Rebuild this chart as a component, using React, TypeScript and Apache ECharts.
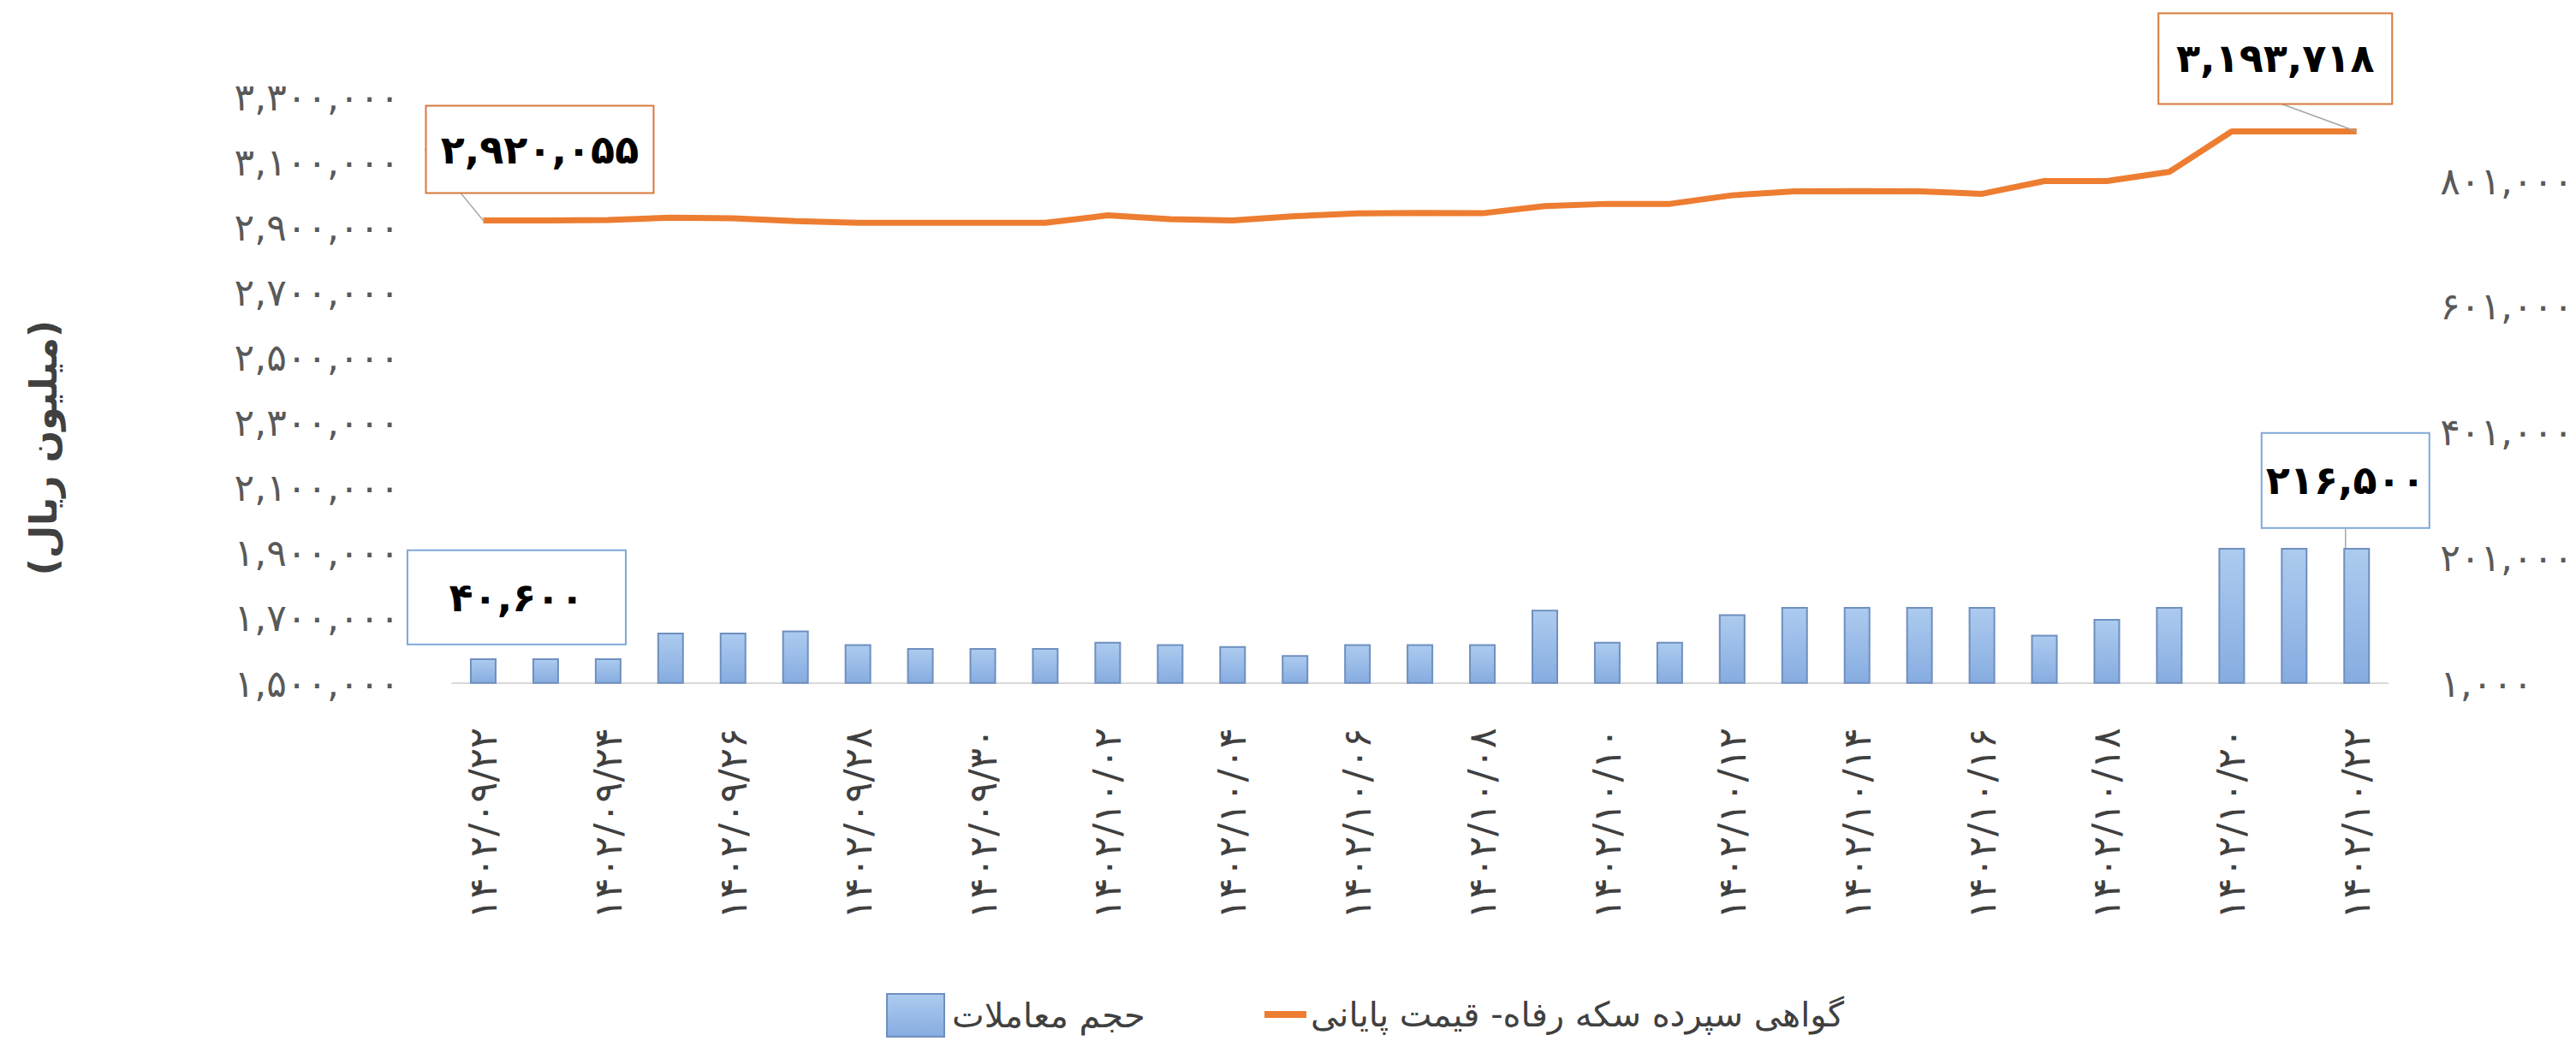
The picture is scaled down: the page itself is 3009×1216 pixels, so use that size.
import React, { useEffect, useRef } from 'react';
import * as echarts from 'echarts';

const FONT = '"DejaVu Sans", sans-serif';

const categories = [
  '1402/09/22', '1402/09/23', '1402/09/24', '1402/09/25', '1402/09/26', '1402/09/27',
  '1402/09/28', '1402/09/29', '1402/09/30', '1402/10/01', '1402/10/02', '1402/10/03',
  '1402/10/04', '1402/10/05', '1402/10/06', '1402/10/07', '1402/10/08', '1402/10/09',
  '1402/10/10', '1402/10/11', '1402/10/12', '1402/10/13', '1402/10/14', '1402/10/15',
  '1402/10/16', '1402/10/17', '1402/10/18', '1402/10/19', '1402/10/20', '1402/10/21',
  '1402/10/22',
];

const volumeValues = [
  40600, 40600, 40600, 81400, 81400, 85000, 63200, 56900, 56900, 56900,
  66900, 63200, 60100, 45500, 63200, 63200, 63200, 117800, 66900, 66900,
  110900, 122300, 122300, 122300, 122300, 78200, 103200, 122300, 216500, 216500,
  216500,
];

const priceValues = [
  2920055, 2920000, 2921800, 2928800, 2927000, 2918300, 2913000, 2913000, 2913000, 2913000,
  2935800, 2924400, 2920000, 2933200, 2942000, 2943500, 2942300, 2964200, 2971200, 2971200,
  2997500, 3009700, 3010600, 3009700, 3001900, 3041300, 3041300, 3069300, 3193718, 3193718,
  3193718,
];

const volumeName = 'حجم معاملات';
const priceName = 'گواهی سپرده سکه رفاه- قیمت پایانی';
const yAxisTitle = '(میلیون ریال)';

const FA = '۰۱۲۳۴۵۶۷۸۹';
const toFa = (s: string) => String(s).replace(/\d/g, (d) => FA[+d]);
const fmt = (v: number) => toFa(Math.round(v).toLocaleString('en-US'));

const annotationBox = (offset: number[], width: number, height: number, border: string) => ({
  show: true,
  position: 'inside',
  offset,
  formatter: (p: any) => fmt(p.value),
  fontFamily: FONT,
  fontSize: 46,
  fontWeight: 'bold',
  color: '#000',
  backgroundColor: '#fff',
  borderColor: border,
  borderWidth: 2,
  width,
  height,
  lineHeight: height,
  align: 'center',
  verticalAlign: 'middle',
});

export default function App() {
  const ref = useRef<HTMLDivElement>(null);
  useEffect(() => {
    if (!ref.current) return;
    const chart = echarts.init(ref.current, null, { renderer: 'svg' });
    const last = volumeValues.length - 1;

    const barData = volumeValues.map((v, i) => {
      if (i === 0) return { value: v, label: annotationBox([39, -86], 253, 108, '#7FA7D8'), labelLine: { show: false } };
      if (i === last) return { value: v, label: annotationBox([-13, -158], 194, 109, '#7FA7D8'), labelLine: { show: true } };
      return v;
    });
    const lineData = priceValues.map((v, i) => {
      if (i === 0) return { value: v, label: annotationBox([66, -83], 264, 100, '#D9783A'), labelLine: { show: true } };
      if (i === last) return { value: v, label: annotationBox([-95, -85], 271, 104, '#D9783A'), labelLine: { show: true } };
      return v;
    });

    const axisLabelBase = {
      fontFamily: FONT,
      fontSize: 44,
      color: '#595959',
      padding: [0, 0, 20, 0],
    };

    const legendText = { fontFamily: FONT, fontSize: 40, color: '#404040', lineHeight: 50 };

    chart.setOption({
      animation: false,
      backgroundColor: '#ffffff',
      textStyle: { fontFamily: FONT },
      grid: { left: 528, right: 213, top: 113, bottom: 418 },
      xAxis: {
        type: 'category',
        data: categories,
        axisLine: { lineStyle: { color: '#D9D9D9', width: 2 } },
        axisTick: { show: false },
        axisLabel: {
          interval: 1,
          rotate: 90,
          margin: 52,
          fontFamily: FONT,
          fontSize: 45,
          color: '#404040',
          padding: [0, 0, 40, 0],
          formatter: (v: string) => toFa(v),
        },
      },
      yAxis: [
        {
          type: 'value',
          min: 1500000,
          max: 3300000,
          interval: 200000,
          splitLine: { show: false },
          axisLine: { show: false },
          axisTick: { show: false },
          axisLabel: { ...axisLabelBase, margin: 61, formatter: (v: number) => fmt(v) },
        },
        {
          type: 'value',
          position: 'right',
          min: 1000,
          max: 935000,
          interval: 200000,
          splitLine: { show: false },
          axisLine: { show: false },
          axisTick: { show: false },
          axisLabel: { ...axisLabelBase, margin: 61, showMaxLabel: false, formatter: (v: number) => fmt(v) },
        },
      ],
      legend: [
        {
          data: [volumeName],
          left: 1030,
          top: 1155,
          itemWidth: 67,
          itemHeight: 50,
          icon: 'rect',
          textStyle: { ...legendText, padding: [0, 0, 0, 4] },
        },
        {
          data: [priceName],
          left: 1472,
          top: 1155,
          itemWidth: 49,
          itemHeight: 8,
          icon: 'rect',
          textStyle: { ...legendText, padding: [0, 0, 0, 0] },
        },
      ],
      graphic: [
        {
          type: 'text',
          x: 50,
          y: 523,
          rotation: Math.PI / 2,
          style: {
            text: yAxisTitle,
            fontFamily: FONT,
            fontSize: 44,
            fontWeight: 'bold',
            fill: '#404040',
            align: 'center',
            verticalAlign: 'middle',
          },
        },
      ],
      series: [
        {
          name: volumeName,
          type: 'bar',
          yAxisIndex: 1,
          barWidth: 31,
          data: barData,
          itemStyle: {
            color: new echarts.graphic.LinearGradient(0, 0, 0, 1, [
              { offset: 0, color: '#ADCBEF' },
              { offset: 1, color: '#86ACE0' },
            ]),
            borderColor: '#6F8FBF',
            borderWidth: 2,
          },
          labelLine: { show: true, lineStyle: { color: '#A6A6A6', width: 1.5 } },
          z: 2,
        },
        {
          name: priceName,
          type: 'line',
          yAxisIndex: 0,
          data: lineData,
          symbol: 'circle',
          symbolSize: 0,
          showSymbol: true,
          lineStyle: { color: '#ED7D31', width: 7 },
          itemStyle: { color: '#ED7D31' },
          labelLine: { show: true, lineStyle: { color: '#A6A6A6', width: 1.5 } },
          z: 3,
        },
      ],
    });
    return () => chart.dispose();
  }, []);
  return (
    <div
      ref={ref}
      style={{ position: 'fixed', left: 0, top: 0, width: 3009, height: 1216, background: '#fff' }}
    />
  );
}
